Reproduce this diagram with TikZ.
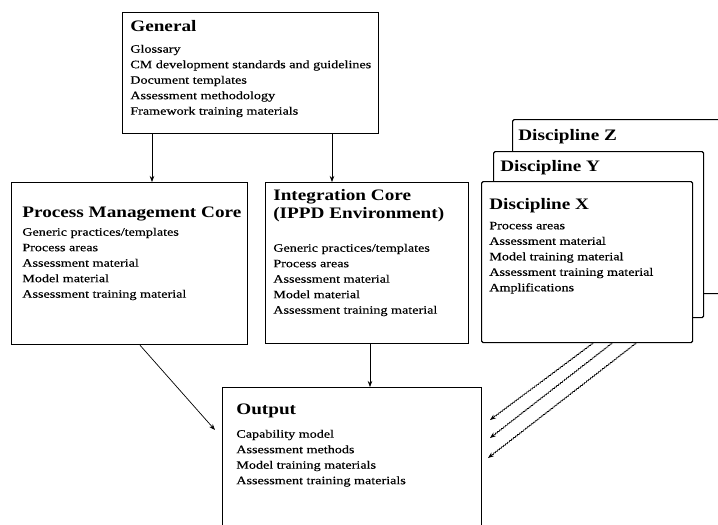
\documentclass[tikz,border=0pt]{standalone}
\usepackage{fontspec}
\setmainfont{Liberation Serif}[FakeStretch=1.2]
\newfontfamily\itemfont{Liberation Serif}[FakeStretch=1.25,FakeBold=0.4]
\usetikzlibrary{arrows.meta,calc,positioning,decorations.pathmorphing}

\tikzset{
  box/.style={draw,line width=1.2pt,inner sep=0pt,anchor=north west,fill=white},
  ttl/.style={anchor=base west,inner sep=0pt,font=\fontsize{16}{17.5}\selectfont\bfseries,align=left},
  itm/.style={anchor=north west,inner sep=0pt,font=\itemfont\fontsize{11.3}{15.5}\selectfont,align=left},
  wavy/.style={->,decorate,decoration={snake,amplitude=0.5pt,segment length=2.5pt,post length=5pt}}
}

\begin{document}
\begin{tikzpicture}[x=1pt,y=-1pt,>={Stealth[length=6pt,width=4.5pt]},line width=0.7pt]
\useasboundingbox (0,0) rectangle (718,525);
\clip (0,0) rectangle (718,525);
% General
\node[box,minimum width=256,minimum height=121] (general) at (122,12) {};
\node[ttl] (generalT) at (130,31) {General};
\node[itm] (generalL) at (130,44.5) {Glossary\\CM development standards and guidelines\\Document templates\\Assessment methodology\\Framework training materials};
% cores
\node[box,minimum width=236,minimum height=162] (pmc) at (11,182) {};
\node[ttl] (pmcT) at (22,217) {Process Management Core};
\node[itm] (pmcL) at (22,227.5) {Generic practices/templates\\Process areas\\Assessment material\\Model material\\Assessment training material};
\node[box,minimum width=203,minimum height=161] (integ) at (265,182) {};
\node[ttl] (integT) at (273,218) {Integration Core\\(IPPD Environment)};
\node[itm] (integL) at (273,243.5) {Generic practices/templates\\Process areas\\Assessment material\\Model material\\Assessment training material};
% disciplines
\node[box,minimum width=210,minimum height=174,rounded corners=1.5pt] (discZ) at (512,119) {};
\node[ttl] (discZT) at (518,140) {Discipline Z};
\node[box,minimum width=210,minimum height=166,rounded corners=1.5pt] (discY) at (493,151) {};
\node[ttl] (discYT) at (500,171) {Discipline Y};
\node[box,minimum width=211,minimum height=161,rounded corners=1.5pt] (discX) at (481,181) {};
\node[ttl] (discXT) at (489,209) {Discipline X};
\node[itm] (discXL) at (489,221.5) {Process areas\\Assessment material\\Model training material\\Assessment training material\\Amplifications};
% output
\node[box,minimum width=259,minimum height=150] (output) at (222,387) {};
\node[ttl] (outputT) at (236,414) {Output};
\node[itm] (outputL) at (236,429.5) {Capability model\\Assessment methods\\Model training materials\\Assessment training materials};
% connectors
\coordinate (g1) at (152,0);
\coordinate (g2) at (332,0);
\coordinate (i1) at (370,0);
\coordinate (p1) at (140,0);
\coordinate (o1) at (215,430);
\draw[->] (general.south -| g1) -- (pmc.north -| g1);
\draw[->] (general.south -| g2) -- (integ.north -| g2);
\draw[->] (integ.south -| i1) -- (output.north -| i1);
\draw[->] (pmc.south -| p1) -- (o1);
\coordinate (x1) at (593,0);
\coordinate (x2) at (612,0);
\coordinate (x3) at (636,0);
\coordinate (w1) at (490,420);
\coordinate (w2) at (490,438);
\coordinate (w3) at (488,458);
\draw[wavy] (discX.south -| x1) -- (w1);
\draw[wavy] (discX.south -| x2) -- (w2);
\draw[wavy] (discX.south -| x3) -- (w3);
\end{tikzpicture}
\end{document}
